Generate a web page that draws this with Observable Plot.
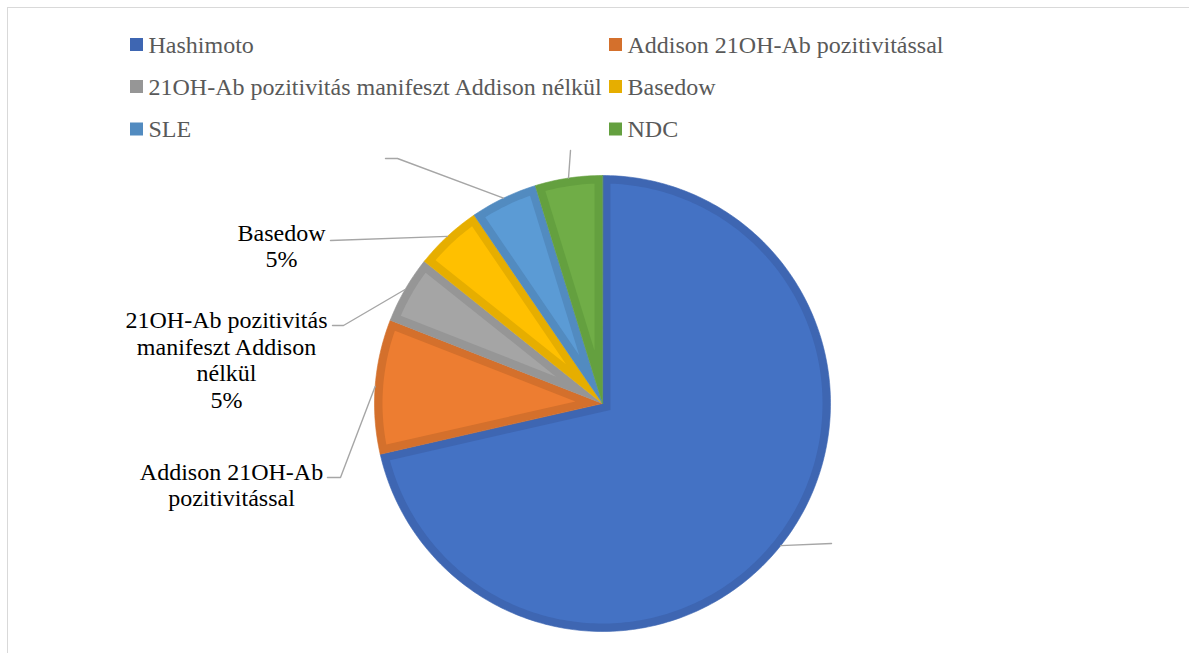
<!DOCTYPE html>
<html><head><meta charset="utf-8">
<script src="https://cdn.jsdelivr.net/npm/d3@7"></script>
<script src="https://cdn.jsdelivr.net/npm/@observablehq/plot@0.6"></script>
<style>
html,body{margin:0;padding:0;background:#fff;overflow:hidden;}
#wrap{position:relative;width:1189px;height:653px;overflow:hidden;}
#frame{position:absolute;left:7px;top:7px;width:1300px;height:800px;border:1.3px solid #d9d9d9;box-sizing:border-box;pointer-events:none;}
</style></head><body>
<div id="wrap"><div id="chart"></div><div id="frame"></div></div>
<script>
// ---- data ----
const categories = ["Hashimoto", "Addison 21OH-Ab pozitivitással", "21OH-Ab pozitivitás manifeszt Addison nélkül", "Basedow", "SLE", "NDC"];
const values = [15, 2, 1, 1, 1, 1];
const labelNames = ["", "Addison 21OH-Ab\npozitivitással", "21OH-Ab pozitivitás\nmanifeszt Addison\nnélkül", "Basedow", "", ""];
const showPercent = [false, false, true, true, false, false];

// ---- style / layout ----
const fills = ["#4472C4", "#ED7D31", "#A5A5A5", "#FFC000", "#5B9BD5", "#70AD47"];
const borders = ["#3E66B2", "#D4702C", "#969696", "#E6AE00", "#528BC0", "#64A03F"];
const W = 1189, H = 653, CX = 602, CY = 403, R = 228, B = 8;
const FONT = "'Liberation Serif', 'Times New Roman', serif";
const legendColX = [130, 609], legendRowY = [44.5, 86.5, 129], legendBox = 13;
const labelPos = [null, [231, 484], [226, 359], [281, 245], null, null];
const leaderStart = [
  [[831, 543]],
  [[327, 477], [340, 477]],
  [[332, 325], [343, 325]],
  [[330, 240]],
  [[385, 158], [397, 158]],
  [[570, 150]]
];

const total = d3.sum(values);
let acc = 0;
const slices = values.map((v, i) => {
  const a0 = acc / total * 2 * Math.PI; acc += v;
  const a1 = acc / total * 2 * Math.PI;
  return {i, a0, a1, mid: (a0 + a1) / 2};
});
const pt = (a, r) => [CX + r * Math.sin(a), CY - r * Math.cos(a)];
function wedge(s, inset) {
  const pts = [];
  const r = R - inset;
  const d = inset ? Math.asin(inset / r) : 0;
  const half = (s.a1 - s.a0) / 2;
  pts.push(inset ? pt(s.mid, inset / Math.sin(half)) : pt(0, 0));
  const b0 = s.a0 + d, b1 = s.a1 - d;
  const n = Math.max(4, Math.ceil((b1 - b0) / (Math.PI / 180)));
  for (let k = 0; k <= n; k++) pts.push(pt(b0 + (b1 - b0) * k / n, r));
  return pts.map(p => ({x: p[0], y: p[1]}));
}

const marks = [];
slices.forEach(s => {
  marks.push(Plot.line(wedge(s, 0), {x: "x", y: "y", fill: borders[s.i], stroke: borders[s.i], strokeWidth: 0.6, curve: "linear-closed"}));
});
slices.forEach(s => {
  marks.push(Plot.line(wedge(s, B), {x: "x", y: "y", fill: fills[s.i], stroke: "none", curve: "linear-closed"}));
});
// leader lines
const leaders = [];
slices.forEach(s => {
  const a = pt(s.mid, R);
  const pts = s.i === 0 ? [a, ...leaderStart[s.i]] : [...leaderStart[s.i], a];
  pts.forEach(p => leaders.push({k: s.i, x: p[0], y: p[1]}));
});
marks.push(Plot.line(leaders, {x: "x", y: "y", z: "k", stroke: "#A6A6A6", strokeWidth: 1.4}));
// data labels
const labels = slices.filter(s => labelPos[s.i]).map(s => ({
  x: labelPos[s.i][0], y: labelPos[s.i][1],
  t: labelNames[s.i] + (showPercent[s.i] ? "\n" + Math.round(values[s.i] / total * 100) + "%" : "")
}));
marks.push(Plot.text(labels, {x: "x", y: "y", text: "t", fill: "#000", fontSize: 24, fontFamily: FONT, textAnchor: "middle", lineAnchor: "middle", lineHeight: 1.1}));
// legend
const legend = categories.map((c, i) => ({c, i, x: legendColX[i % 2], y: legendRowY[Math.floor(i / 2)]}));
marks.push(Plot.rect(legend, {x1: d => d.x, x2: d => d.x + legendBox, y1: d => d.y - legendBox / 2, y2: d => d.y + legendBox / 2, fill: d => borders[d.i]}));
marks.push(Plot.text(legend, {x: d => d.x + legendBox + 5, y: "y", text: "c", fill: "#595959", fontSize: 24, fontFamily: FONT, textAnchor: "start", lineAnchor: "middle"}));

const chart = Plot.plot({
  width: W, height: H, margin: 0,
  x: {domain: [0, W], range: [0, W], axis: null},
  y: {domain: [0, H], range: [0, H], axis: null},
  style: {fontFamily: FONT, background: "#fff", overflow: "visible"},
  marks
});
document.getElementById("chart").appendChild(chart);
</script>
</body></html>
